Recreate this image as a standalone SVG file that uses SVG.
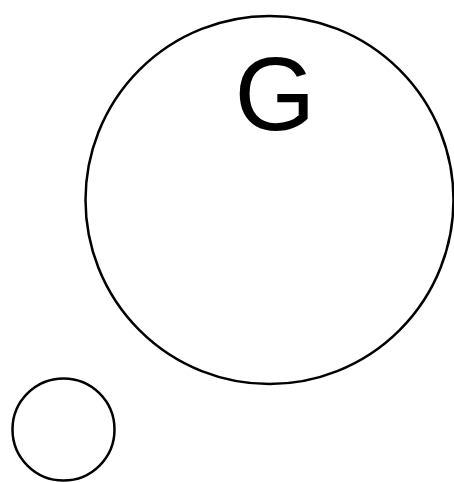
<svg xmlns="http://www.w3.org/2000/svg" width="454" height="482" viewBox="0 0 454 482">
<style>
.c{fill:none;stroke:#000;stroke-width:2.5}
.t{font-family:"Liberation Sans",Arial,sans-serif;font-size:104px;fill:#000;text-anchor:middle}
</style>
<rect width="454" height="482" fill="#fff"/>
<g id="G">
<circle class="c" cx="269.5" cy="200" r="184"/>
<text class="t" x="275" y="130">G</text>
</g>
<g id="small">
<circle class="c" cx="63.5" cy="429.5" r="51"/>
</g>
<g id="connectors"></g>
</svg>
